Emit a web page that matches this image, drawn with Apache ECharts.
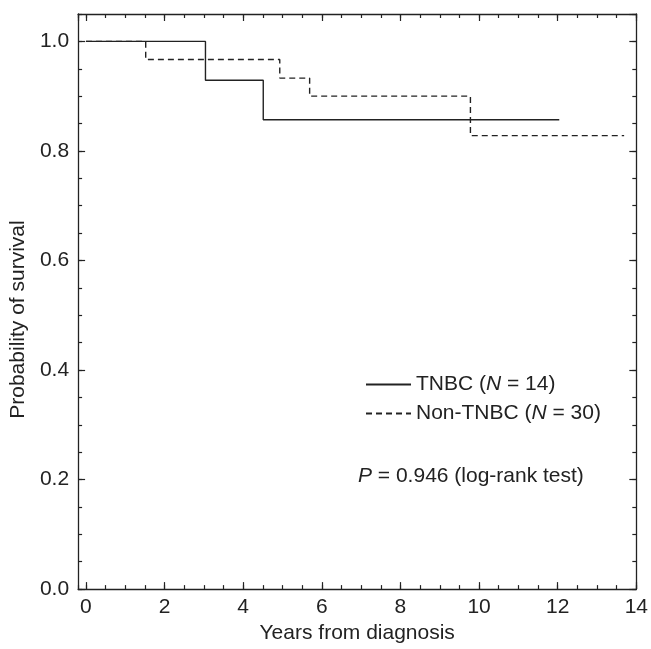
<!DOCTYPE html>
<html>
<head>
<meta charset="utf-8">
<script src="https://cdn.jsdelivr.net/npm/echarts@6/dist/echarts.min.js"></script>
<style>
  html, body { margin: 0; padding: 0; background: #fff; }
  #chart { width: 651px; height: 649px; }
</style>
</head>
<body>
<div id="chart"></div>
<script>
// Kaplan-Meier data
var tnbcTimes = [0, 3.04, 4.51, 12.04];
var tnbcSurvival = [1, 0.929, 0.857, 0.857];
var nonTnbcTimes = [0, 1.52, 4.93, 5.69, 9.78, 13.69];
var nonTnbcSurvival = [1, 0.967, 0.933, 0.9, 0.828, 0.828];
var groupNames = ['TNBC', 'Non-TNBC'];
var groupSizes = [14, 30];
var xTicks = [0, 2, 4, 6, 8, 10, 12, 14];
var yTicks = [0, 0.2, 0.4, 0.6, 0.8, 1.0];
var pValue = '0.946';

var font = 'Liberation Sans, Arial, Helvetica, sans-serif';
var ink = '#222';

function pairs(xs, ys) {
  return xs.map(function (x, i) { return [x, ys[i]]; });
}

// major/minor tick axes, ticks drawn inside the box
function xAxisOf(position, major) {
  return {
    type: 'value', position: position, min: -0.2, max: 14,
    splitNumber: major ? 7 : 28,
    minInterval: major ? 2 : 0.5, maxInterval: major ? 2 : 0.5,
    axisLine: { show: major, onZero: false, lineStyle: { color: ink, width: 1.3 } },
    axisTick: { inside: true, length: major ? 7 : 4, lineStyle: { color: ink, width: 1.2 } },
    axisLabel: {
      show: major && position === 'bottom', margin: 8, showMinLabel: false, showMaxLabel: true,
      fontSize: 21, fontFamily: font, color: ink,
      formatter: function (v) { return xTicks.indexOf(v) >= 0 ? String(v) : ''; }
    },
    splitLine: { show: false },
    name: major && position === 'bottom' ? 'Years from diagnosis' : '',
    nameLocation: 'middle', nameGap: 31,
    nameTextStyle: { fontSize: 21, fontFamily: font, color: ink }
  };
}

function yAxisOf(position, major) {
  return {
    type: 'value', position: position, min: 0, max: 1.05,
    interval: major ? 0.2 : 0.05,
    axisLine: { show: major, onZero: false, lineStyle: { color: ink, width: 1.3 } },
    axisTick: { inside: true, length: major ? 7 : 4, lineStyle: { color: ink, width: 1.2 } },
    axisLabel: {
      show: major && position === 'left', margin: 9, showMaxLabel: false,
      fontSize: 21, fontFamily: font, color: ink,
      formatter: function (v) {
        for (var i = 0; i < yTicks.length; i++) {
          if (Math.abs(v - yTicks[i]) < 1e-6) return yTicks[i].toFixed(1);
        }
        return '';
      }
    },
    splitLine: { show: false },
    name: major && position === 'left' ? 'Probability of survival' : '',
    nameLocation: 'middle', nameGap: 47,
    nameTextStyle: { fontSize: 21, fontFamily: font, color: ink, padding: [0, 36, 0, 0] }
  };
}

var rich = {
  t: { fontSize: 21, fontFamily: font, color: ink, fontWeight: 'normal' },
  i: { fontSize: 21, fontFamily: font, color: ink, fontWeight: 'normal', fontStyle: 'italic' }
};

var chart = echarts.init(document.getElementById('chart'));
chart.setOption({
  animation: false,
  backgroundColor: '#fff',
  grid: { left: 77, right: 12, top: 14, bottom: 55, containLabel: false },
  xAxis: [xAxisOf('bottom', true), xAxisOf('bottom', false), xAxisOf('top', true), xAxisOf('top', false)],
  yAxis: [yAxisOf('left', true), yAxisOf('left', false), yAxisOf('right', true), yAxisOf('right', false)],
  legend: {
    orient: 'vertical', left: 365, top: 374, itemGap: 8, padding: 0,
    itemWidth: 45, itemHeight: 14,
    itemStyle: { opacity: 0 },
    data: groupNames,
    formatter: function (name) {
      var n = groupSizes[groupNames.indexOf(name)];
      return '{t|' + name + ' (}{i|N}{t| = ' + n + ')}';
    },
    textStyle: { rich: rich }
  },
  title: {
    left: 358, top: 466, padding: 0,
    text: '{i|P}{t| = ' + pValue + ' (log-rank test)}',
    textStyle: { fontWeight: 'normal', rich: rich }
  },
  series: [
    {
      name: groupNames[0], type: 'line', step: 'end', symbol: 'none',
      xAxisIndex: 0, yAxisIndex: 0,
      lineStyle: { color: ink, width: 1.4, type: 'solid' },
      itemStyle: { color: ink },
      data: pairs(tnbcTimes, tnbcSurvival)
    },
    {
      name: groupNames[1], type: 'line', step: 'end', symbol: 'none',
      xAxisIndex: 0, yAxisIndex: 0,
      lineStyle: { color: ink, width: 1.4, type: [6, 4] },
      itemStyle: { color: ink },
      data: pairs(nonTnbcTimes, nonTnbcSurvival)
    }
  ]
});
</script>
</body>
</html>
